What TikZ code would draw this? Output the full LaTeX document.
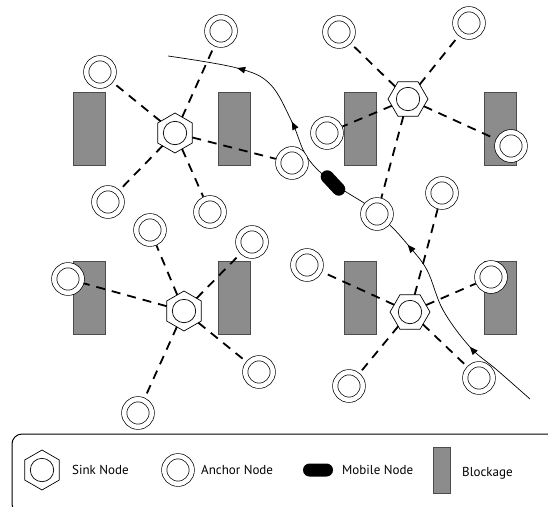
\documentclass[tikz,border=0pt]{standalone}
\usepackage{fontspec}
\setmainfont{PT Sans}
\usetikzlibrary{shapes.geometric,arrows.meta,decorations.markings,positioning}
\tikzset
{
    sink/.style       = {regular polygon, regular polygon sides=6, draw=black, line width=0.7pt, fill=white, minimum size=40pt, inner sep=0pt, outer sep=0pt,
                         path picture={\draw[line width=0.7pt] (path picture bounding box.center) circle (11.7pt);}},
    pointy/.style     = {shape border rotate=30},
    anchornode/.style = {circle, draw=black, line width=0.7pt, double=white, double distance=4.5pt, fill=white, minimum size=27.5pt, inner sep=0pt, outer sep=3pt},
    mobile/.style     = {rectangle, rounded corners=6.5pt, fill=black, minimum width=30pt, minimum height=13pt, inner sep=0pt},
    blockage/.style   = {rectangle, draw=black!70, fill=black!45, line width=0.6pt, minimum width=32pt, minimum height=73pt, inner sep=0pt},
    link/.style       = {line width=1.8pt, dash pattern=on 9pt off 7pt},
    route/.style      = {line width=0.7pt, postaction={decorate}, decoration={markings,
                         mark=at position 0.152 with {\arrow{Triangle[length=8pt,width=6.5pt]}},
                         mark=at position 0.382 with {\arrow{Triangle[length=8pt,width=6.5pt]}},
                         mark=at position 0.712 with {\arrow{Triangle[length=8pt,width=6.5pt]}},
                         mark=at position 0.866 with {\arrow{Triangle[length=8pt,width=6.5pt]}}}},
    legendtext/.style = {anchor=base west, inner sep=0pt, font=\fontsize{13}{15}\selectfont}
}

\begin{document}
\begin{tikzpicture}[x=1pt, y=-1pt]
    \clip (0,0) rectangle (548,506);

    % blockages
    \node [blockage] (b1) at (89,128.5) {};
    \node [blockage] (b2) at (234,128.5) {};
    \node [blockage] (b3) at (360.5,128.5) {};
    \node [blockage] (b4) at (500.5,128.5) {};
    \node [blockage] (b5) at (89,297.5) {};
    \node [blockage] (b6) at (234,297.5) {};
    \node [blockage] (b7) at (360.5,297.5) {};
    \node [blockage] (b8) at (500.5,297.5) {};

    % path of the mobile node
    \draw [route] plot [smooth, tension=0.6] coordinates {(530,399) (497,370) (470,347) (443,310) (427,270) (408,245) (390,225) (370,207) (333,183) (307,157) (292,122) (270,84) (237,68) (168,56)};
    \node [mobile, rotate=-47] (m) at (333,183) {};

    % sinks
    \node [sink, pointy] (s1) at (175,133) {};
    \node [sink] (s2) at (408,99) {};
    \node [sink, pointy] (s3) at (184,311) {};
    \node [sink] (s4) at (410,312) {};

    % anchors
    \node [anchornode] (a1) at (100,72) {};
    \node [anchornode] (a2) at (221,31) {};
    \node [anchornode] (a3) at (108,202) {};
    \node [anchornode] (a4) at (210,212) {};
    \node [anchornode] (a5) at (292,163) {};
    \node [anchornode] (a6) at (339,32) {};
    \node [anchornode] (a7) at (469,23) {};
    \node [anchornode] (a8) at (327,133) {};
    \node [anchornode] (a9) at (511,146) {};
    \node [anchornode] (a10) at (377,214) {};
    \node [anchornode] (a11) at (150,230) {};
    \node [anchornode] (a12) at (252,242) {};
    \node [anchornode] (a13) at (68,279) {};
    \node [anchornode] (a14) at (259,372) {};
    \node [anchornode] (a15) at (138,413) {};
    \node [anchornode] (a16) at (442,193) {};
    \node [anchornode] (a17) at (307,265) {};
    \node [anchornode] (a18) at (491,277) {};
    \node [anchornode] (a19) at (349,386) {};
    \node [anchornode] (a20) at (479,378) {};

    \draw [link] (s1) -- (a1) (s1) -- (a2) (s1) -- (a3) (s1) -- (a4) (s1) -- (a5);
    \draw [link] (s2) -- (a6) (s2) -- (a7) (s2) -- (a8) (s2) -- (a9) (s2) -- (a10);
    \draw [link] (s3) -- (a11) (s3) -- (a12) (s3) -- (a13) (s3) -- (a14) (s3) -- (a15);
    \draw [link] (s4) -- (a16) (s4) -- (a17) (s4) -- (a18) (s4) -- (a19) (s4) -- (a20);

    % legend
    \draw [line width=1pt, rounded corners=10pt] (12,434) rectangle (562,514);
    \node [sink, pointy] (lsink) at (42,470) {};
    \node [legendtext] (lsinktext) at (72,474) {Sink Node};
    \node [anchornode] (lanchor) at (178,470) {};
    \node [legendtext] (lanchortext) at (201,474) {Anchor Node};
    \node [mobile] (lmobile) at (318,470) {};
    \node [legendtext] (lmobiletext) at (342,474) {Mobile Node};
    \node [blockage, minimum width=17pt, minimum height=46pt] (lblock) at (441.5,470) {};
    \node [legendtext] (lblocktext) at (462,476) {Blockage};
\end{tikzpicture}
\end{document}
